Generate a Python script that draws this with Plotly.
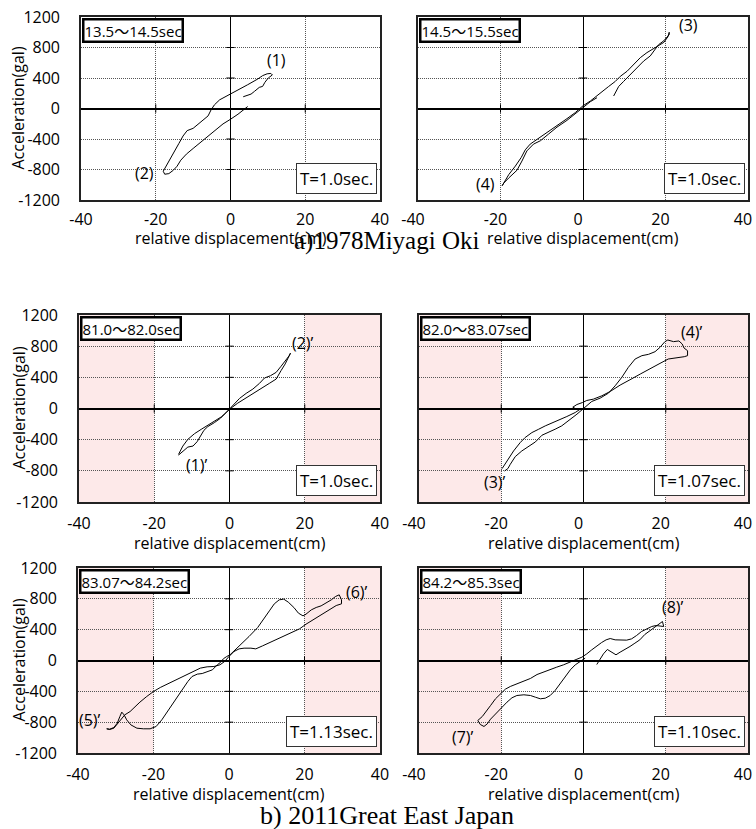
import plotly.graph_objects as go

W, H = 756, 829

# ---------------- data ----------------
disp_1 = [3.4,5.5,6.4,7.7,8.6,9.2,10.1,11.2,10.8,9.8,8.6,7.3,4.6,2.4,0.36,-1.2,-2.9,-4.3,-5.2,-6.0,-7.4,-8.7,-10.0,-11.6,-12.7,-13.8,-14.8,-15.6,-16.5,-17.4,-18.0,-17.6,-16.5,-15.3,-14.3,-13.3,-11.8,-10.0,-8.3,-6.5,-4.3,-2.0,0,2.0,4.6]
acc_1 = [154,189,224,277,290,343,400,440,460,455,431,387,312,255,202,167,114,48,-18,-97,-158,-216,-260,-290,-361,-458,-546,-625,-700,-766,-823,-862,-854,-810,-757,-678,-598,-524,-458,-383,-290,-202,-141,-75,26]

disp_2 = [7.43,8.65,9.86,11.5,13.1,14.7,16.3,17.5,18.3,19.6,20.9,20.9,20.6,19.6,17.5,15.5,13.9,12.3,10.7,9.05,7.84,6.22,4.2,1.78,0,-1.86,-3.88,-6.3,-8.73,-11.15,-12.8,-14.0,-15.0,-16.4,-18.0,-19.6,-19.2,-18.0,-16.0,-14.8,-13.6,-12.0,-10.3,-8.3,-6.3,-3.9,-1.86,0,1.78,3.4]
acc_2 = [164,289,356,444,533,622,689,778,836,889,969,1000,942,867,800,733,667,578,489,422,356,289,200,98,36,-53,-133,-222,-311,-400,-467,-542,-644,-755,-867,-1013,-978,-911,-809,-689,-556,-467,-422,-333,-244,-156,-67,22,89,142]

disp_3 = [-13.55,-12.4,-11.07,-9.3,-7.5,-5.76,-3.99,-2.2,-0.89,0,1.33,2.66,4.43,6.2,7.97,9.3,10.9,12.4,13.7,15.06,15.9,16.2,15.7,14.8,13.7,12.4,10.6,8.4,6.2,4.0,2.2,0.89,0,-1.15,-2.4,-4.0,-5.76,-6.8,-7.7,-8.6,-9.7,-11.07,-12.1,-13.55]
acc_3 = [-589,-482,-396,-323,-267,-215,-168,-108,-52,-9,56,129,194,249,323,391,421,464,542,624,679,710,658,572,486,378,323,258,194,129,69,22,-9,-65,-125,-181,-232,-280,-353,-426,-482,-495,-538,-598]

disp_4 = [-19.2,-18.4,-17.8,-16.6,-15.0,-13.4,-11.7,-10.1,-8.5,-6.9,-5.3,-3.6,-1.6,0,2.0,4.05,6.07,7.7,9.3,10.9,12.55,14.2,15.8,17.4,18.6,19.8,20.5,21.9,23.2,24.0,24.45,25.3,25.3,24.5,23.1,20.6,18.6,16.2,13.8,11.3,8.9,6.5,4.45,2.4,0.8,-0.24,-1.6,-2.6,-2.0,-0.8,-2.0,-4.05,-6.07,-7.7,-9.3,-10.9,-12.55,-14.2,-15.4,-17.0,-18.6,-19.8]
acc_4 = [-802,-772,-716,-618,-545,-489,-429,-343,-309,-266,-223,-159,-73,0,90,133,197,292,399,528,635,678,695,729,785,858,879,858,867,828,776,742,678,665,652,635,579,515,442,369,300,219,163,120,103,77,51,17,0,-9,-51,-103,-146,-180,-223,-266,-309,-373,-438,-545,-674,-772]

disp_5 = [-32.4,-31.6,-30.5,-29.8,-28.7,-27.6,-26.2,-25.3,-23.6,-21.8,-20.0,-18.2,-16.4,-14.7,-12.9,-11.1,-9.3,-7.6,-5.8,-4.0,-2.4,-1.16,0,1.33,2.67,4.0,5.8,7.1,8.9,11.1,13.8,16.4,18.7,20.4,22.7,24.9,27.1,28.4,29.8,29.8,29.2,28.2,27.1,25.8,24.4,23.1,21.8,20.4,19.6,18.4,17.2,15.7,14.5,13.3,12.0,10.7,9.3,7.6,5.3,3.1,1.33,0.27,-0.6,-1.5,-2.2,-3.1,-4.4,-5.8,-7.1,-8.4,-9.8,-10.9,-12.4,-14.2,-16.0,-17.8,-19.3,-20.9,-22.7,-24.4,-26.0,-27.1,-27.8,-28.4,-28.9,-29.6,-30.5,-31.6,-32.4]
acc_5 = [-886,-895,-878,-835,-770,-705,-662,-618,-540,-467,-402,-350,-307,-259,-216,-177,-134,-99,-82,-78,-56,-13,52,117,151,160,160,151,190,238,298,355,411,471,541,614,679,713,735,787,852,830,787,744,709,688,657,601,579,614,687,757,796,787,735,644,549,428,311,203,117,74,52,22,-22,-56,-121,-151,-169,-177,-208,-272,-380,-510,-653,-770,-856,-886,-886,-878,-835,-770,-705,-670,-726,-813,-869,-891,-886]

disp_6 = [3.23,4.04,4.85,5.8,6.9,7.9,8.9,10.1,11.3,12.5,13.7,14.9,16.2,17.1,18.2,19.2,19.5,18.7,17.6,16.6,15.4,14.1,12.9,11.7,10.5,8.9,7.7,6.5,5.5,4.4,3.2,2.0,0.8,-0.4,-1.6,-3.2,-4.85,-6.5,-8.1,-9.7,-11.3,-12.9,-14.5,-16.2,-17.8,-19.0,-20.2,-21.4,-22.6,-23.6,-24.6,-25.7,-25.1,-24.2,-23.4,-22.6,-21.4,-20.2,-18.6,-17.4,-16.2,-14.5,-12.9,-11.7,-10.5,-9.3,-8.1,-6.9,-5.7,-4.4,-3.2,-2.0,-0.8,0.4]
acc_6 = [-52,22,86,143,108,74,108,143,182,225,268,337,389,432,467,506,441,450,454,441,411,376,324,281,264,264,268,285,268,233,190,138,86,43,17,-22,-56,-86,-117,-147,-182,-233,-264,-298,-337,-372,-432,-497,-584,-649,-726,-778,-830,-856,-822,-761,-692,-618,-540,-484,-454,-445,-454,-476,-497,-489,-454,-389,-303,-208,-121,-56,-13,30]

window_labels = ["13.5\u301c14.5sec", "14.5\u301c15.5sec", "81.0\u301c82.0sec",
                 "82.0\u301c83.07sec", "83.07\u301c84.2sec", "84.2\u301c85.3sec"]
period_labels = ["T=1.0sec.", "T=1.0sec.", "T=1.0sec.", "T=1.07sec.", "T=1.13sec.", "T=1.10sec."]

point_labels = [
    [("(1)", 12.2, 636), ("(2)", -22.9, -846)],
    [("(3)", 25.5, 1095), ("(4)", -23.7, -989)],
    [("(2)\u2019", 19.5, 840), ("(1)\u2019", -8.6, -725)],
    [("(4)\u2019", 26.4, 988), ("(3)\u2019", -21.5, -949)],
    [("(6)\u2019", 33.9, 888), ("(5)\u2019", -36.8, -772)],
    [("(8)\u2019", 21.8, 694), ("(7)\u2019", -29.3, -992)],
]

x_ticks = [-40, -20, 0, 20, 40]
x_tick_text = ["-40", "-20", "0", "20", "40"]
y_ticks = [-1200, -800, -400, 0, 400, 800, 1200]
y_tick_text = ["-1200", "-800", "-400", "0", "400", "800", "1200"]

captions = ["a)1978Miyagi Oki", "b) 2011Great East Japan"]

series = [(disp_1, acc_1), (disp_2, acc_2), (disp_3, acc_3),
          (disp_4, acc_4), (disp_5, acc_5), (disp_6, acc_6)]
shaded = [False, False, True, True, True, True]

boxes = [  # left, right, top, bottom (pixels)
    (81, 380, 17, 200), (418, 748, 17, 200),
    (79, 380, 315, 502), (419, 748, 315, 502),
    (78, 380, 568, 753), (419, 748, 568, 753),
]
row_tick_standoff = [4, 6, 6]
row_title_shift = [-38, -41, -41]

FONT = "Open Sans, Noto Sans CJK JP, sans-serif"
GRID = dict(showgrid=True, gridcolor="#555555", griddash="1px,1px", gridwidth=1)
fig = go.Figure()
layout = dict(width=W, height=H, margin=dict(l=0, r=0, t=0, b=0, pad=0, autoexpand=False),
              paper_bgcolor="white", plot_bgcolor="white", showlegend=False,
              font=dict(family=FONT, color="black", size=16))
shapes, annotations = [], []

for i, ((dx, ay), (l, r, t, b)) in enumerate(zip(series, boxes)):
    n = i + 1
    row = i // 2
    xa = "x" if n == 1 else f"x{n}"
    ya = "y" if n == 1 else f"y{n}"
    layout[f"xaxis{'' if n == 1 else n}"] = dict(
        domain=[l / W, r / W], range=[-40, 40], anchor=ya, automargin=False,
        tickvals=x_ticks, ticktext=x_tick_text, ticks="", ticklabeloverflow="allow",
        ticklabelshift=(-5 if n % 2 == 0 else 0),
        ticklabelstandoff=row_tick_standoff[row], tickfont=dict(size=16, family=FONT), **GRID,
        zeroline=True, zerolinecolor="black", zerolinewidth=1.2,
        showline=True, mirror=True, linecolor="#222", linewidth=1.6, fixedrange=True)
    layout[f"yaxis{'' if n == 1 else n}"] = dict(
        domain=[1 - b / H, 1 - t / H], range=[-1200, 1200], anchor=xa, automargin=False,
        tickvals=y_ticks, ticktext=y_tick_text, ticks="", ticklabeloverflow="allow",
        showticklabels=(n % 2 == 1), ticklabelstandoff=16,
        tickfont=dict(size=16, family=FONT), **GRID,
        zeroline=True, zerolinecolor="black", zerolinewidth=1.6,
        showline=True, mirror=True, linecolor="#222", linewidth=1.6, fixedrange=True)

    if shaded[i]:
        for x0, x1 in [(-40, -20), (20, 40)]:
            shapes.append(dict(type="rect", xref=xa, yref=f"{ya} domain",
                               x0=x0, x1=x1, y0=0, y1=1, layer="below",
                               fillcolor="#fde9e9", line=dict(width=0)))

    fig.add_trace(go.Scatter(x=dx, y=ay, mode="lines", xaxis=xa, yaxis=ya,
                             line=dict(color="black", width=1), hoverinfo="skip"))
    inner_y = [v for v in y_ticks if v not in (0, -1200, 1200)]
    fig.add_trace(go.Scatter(x=[0] * len(inner_y), y=inner_y, mode="markers", xaxis=xa, yaxis=ya,
                             marker=dict(symbol="line-ew", size=6, line=dict(color="black", width=1)),
                             hoverinfo="skip"))
    inner_x = [v for v in x_ticks if v not in (0, -40, 40)]
    fig.add_trace(go.Scatter(x=inner_x, y=[0] * len(inner_x), mode="markers", xaxis=xa, yaxis=ya,
                             marker=dict(symbol="line-ns", size=6, line=dict(color="black", width=1)),
                             hoverinfo="skip"))

    annotations.append(dict(text=window_labels[i], xref=f"{xa} domain", yref=f"{ya} domain",
                            x=0, y=1, xanchor="left", yanchor="top", xshift=1, yshift=-1,
                            showarrow=False, bgcolor="white", bordercolor="black",
                            borderwidth=2.5, borderpad=0, font=dict(size=15, family=FONT)))
    annotations.append(dict(text=period_labels[i], xref=f"{xa} domain", yref=f"{ya} domain",
                            x=1, y=0, xanchor="right", yanchor="bottom", xshift=-3, yshift=6,
                            showarrow=False, bgcolor="white", bordercolor="#333",
                            borderwidth=1, borderpad=3, font=dict(size=17, family=FONT)))
    for txt, px, py in point_labels[i]:
        annotations.append(dict(text=txt, xref=xa, yref=ya, x=px, y=py, showarrow=False,
                                font=dict(size=16, family=FONT)))
    annotations.append(dict(text="relative displacement(cm)", xref=f"{xa} domain", yref=f"{ya} domain",
                            x=0.5, y=0, yshift=row_title_shift[row], xanchor="center", yanchor="middle",
                            showarrow=False, font=dict(size=16, family=FONT)))
    if n % 2 == 1:
        annotations.append(dict(text="Acceleration(gal)", xref="paper", yref=f"{ya} domain",
                                x=18 / W, y=0.5, xanchor="center", yanchor="middle",
                                textangle=-90, showarrow=False, font=dict(size=16, family=FONT)))

annotations.append(dict(text=captions[0], xref="paper", yref="paper", x=386 / W, y=1 - 241 / H,
                        xanchor="center", yanchor="middle", showarrow=False,
                        font=dict(size=25, family="Liberation Serif, Times New Roman, serif")))
annotations.append(dict(text=captions[1], xref="paper", yref="paper", x=387 / W, y=1 - 815 / H,
                        xanchor="center", yanchor="middle", showarrow=False,
                        font=dict(size=26, family="Liberation Serif, Times New Roman, serif")))

layout["shapes"] = shapes
layout["annotations"] = annotations
fig.update_layout(**layout)
fig.write_html("out.html")
